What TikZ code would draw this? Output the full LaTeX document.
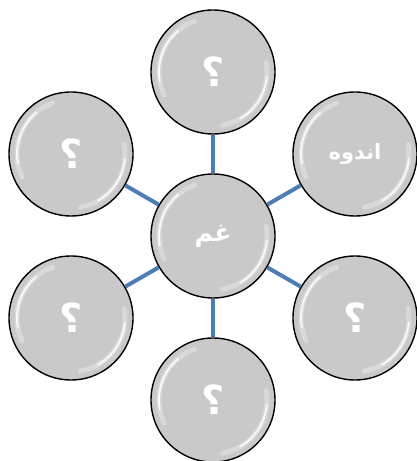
\documentclass[tikz,border=0pt]{standalone}
\usepackage{fontspec}
\newfontfamily\arabicfont[Script=Arabic]{DejaVu Sans}
\TeXXeTstate=1
\usetikzlibrary{positioning}
\definecolor{linkblue}{HTML}{4A7EBB}
\definecolor{bubblegrey}{HTML}{C9C9C9}

\begin{document}
\begin{tikzpicture}
    [
        x=1pt, y=1pt,
        node distance=164pt and 142pt, on grid,
        bubble/.style={circle, draw=black, fill=bubblegrey, line width=1.4pt, minimum size=124pt, inner sep=0pt, text=white,
            font=\arabicfont\bfseries\fontsize{21}{24}\selectfont,
            path picture={
                \draw[white, opacity=0.3, line width=5pt, line cap=round] (path picture bounding box.center) ++(110:54pt) arc[start angle=110, end angle=205, radius=54pt];
                \draw[white, opacity=0.85, line width=1.8pt, line cap=round] (path picture bounding box.center) ++(130:54pt) arc[start angle=130, end angle=190, radius=54pt];
                \draw[white, opacity=0.3, line width=5pt, line cap=round] (path picture bounding box.center) ++(-80:54pt) arc[start angle=-80, end angle=10, radius=54pt];
                \draw[white, opacity=0.85, line width=1.8pt, line cap=round] (path picture bounding box.center) ++(-60:54pt) arc[start angle=-60, end angle=-5, radius=54pt];
            }},
        ask/.style={bubble, font=\arabicfont\bfseries\fontsize{40}{42}\selectfont},
        link/.style={line width=4pt, color=linkblue},
    ]
        \useasboundingbox (0,0) rectangle (417,461);
        \node[bubble, font=\arabicfont\bfseries\fontsize{25}{28}\selectfont] (grief) at (213,225) {\beginR غم\endR} ;
        \node[ask] (q1) [above = of grief] {؟} ;
        \node[bubble] (sorrow) [above right = 82pt and 142pt of grief] {\beginR اندوه\endR} ;
        \node[ask] (q2) [below right = 82pt and 142pt of grief] {؟} ;
        \node[ask] (q3) [below = of grief] {؟} ;
        \node[ask] (q4) [below left = 82pt and 142pt of grief] {؟} ;
        \node[ask] (q5) [above left = 82pt and 142pt of grief] {؟} ;
        \draw[link] (grief) -- (q1) ;
        \draw[link] (grief) -- (sorrow) ;
        \draw[link] (grief) -- (q2) ;
        \draw[link] (grief) -- (q3) ;
        \draw[link] (grief) -- (q4) ;
        \draw[link] (grief) -- (q5) ;
    \end{tikzpicture}
\end{document}
